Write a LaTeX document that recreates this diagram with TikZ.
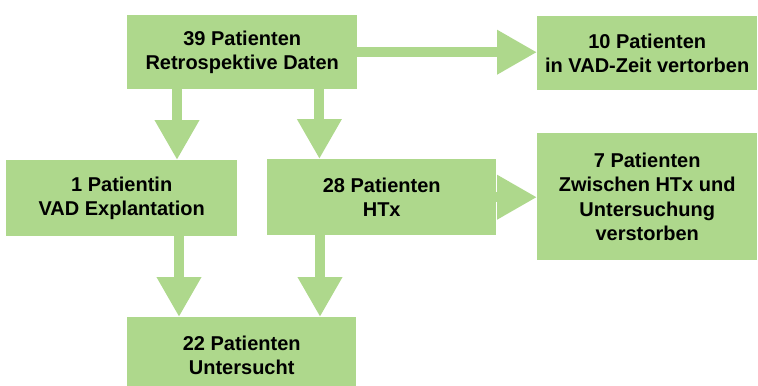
\documentclass[tikz,border=0pt]{standalone}
\usepackage{fontspec}
\setmainfont{Liberation Sans}
\usetikzlibrary{arrows.meta}
\definecolor{boxgreen}{RGB}{174,216,140}

\begin{document}
\begin{tikzpicture}[x=1bp,y=-1bp,
  box/.style={fill=boxgreen,align=center,inner sep=0pt,anchor=north west,
    font=\bfseries\fontsize{20bp}{24.5bp}\selectfont},
  flow/.style={draw=boxgreen,line width=10bp,-{Triangle[length=40bp,width=42bp]}}]
  \clip (0,0) rectangle (758,385); % page size
  % boxes
  \node[box,minimum width=230bp,minimum height=74bp] (ret) at (127,15) {39 Patienten\\Retrospektive Daten};
  \node[box,minimum width=220bp,minimum height=74bp] (vad) at (537,16) {10 Patienten\\in VAD-Zeit vertorben};
  \node[box,minimum width=231bp,minimum height=76bp] (expl) at (6,160) {1 Patientin\\VAD Explantation};
  \node[box,minimum width=229bp,minimum height=76bp] (htx) at (267,159) {28 Patienten\\HTx};
  \node[box,minimum width=220bp,minimum height=127bp] (tot) at (537,133) {7 Patienten\\Zwischen HTx und\\Untersuchung\\verstorben};
  \node[box,minimum width=229bp,minimum height=76bp] (unt) at (127,317) {22 Patienten\\Untersucht};
  % arrows
  \draw[flow] (ret.east) -- (ret.east -| vad.west);
  \draw[flow] ([xshift=50bp]ret.south west) -- ([xshift=50bp]ret.south west |- expl.north);
  \draw[flow] ([xshift=-38bp]ret.south east) -- ([xshift=-38bp]ret.south east |- htx.north);
  \draw[flow] ([xshift=52bp]unt.north west |- expl.south) -- ([xshift=52bp]unt.north west);
  \draw[flow] ([xshift=53bp]htx.south west) -- ([xshift=53bp]htx.south west |- unt.north);
  \draw[flow] (htx.east) -- (htx.east -| tot.west);
\end{tikzpicture}
\end{document}
